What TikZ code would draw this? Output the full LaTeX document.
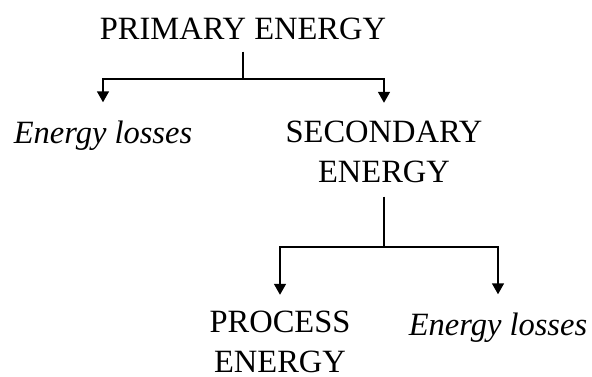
\documentclass[tikz,border=0pt]{standalone}
\usepackage{fontspec}
\setmainfont{Liberation Serif}
\usetikzlibrary{arrows.meta}

\begin{document}
\begin{tikzpicture}[x=1pt, y=-1pt,
  label/.style={inner sep=0pt, anchor=base, align=center, font=\fontsize{32.5}{39.5}\selectfont},
  loss/.style={label, font=\fontsize{32.5}{39.5}\selectfont\itshape},
  wire/.style={line width=1.6pt},
  branch/.style={wire, -{Triangle[width=12pt,length=11pt]}, shorten >=18pt}]
 \useasboundingbox (0,0) rectangle (592,376);
 % base anchor of a two-line node sits on its last line
 \node[label] (primary) at (243,39) {PRIMARY ENERGY};
 \node[loss] (loss1) at (103,143) {Energy losses};
 \node[label] (secondary) at (384,182) {SECONDARY\\ENERGY};
 \node[label] (process) at (280,372) {PROCESS\\ENERGY};
 \node[loss] (loss2) at (498,335) {Energy losses};
 \coordinate (fork1) at (243,79);
 \coordinate (fork2) at (384,247);
  \draw[wire] ([yshift=-12pt]primary.south) -- (fork1);
  \draw[branch] (fork1) -| (loss1.north);
  \draw[branch] (fork1) -| (secondary.north);
  \draw[wire] ([yshift=-14pt]secondary.south) -- (fork2);
  \draw[branch, shorten >=16pt] (fork2) -| (process.north);
  \draw[branch] (fork2) -| (loss2.north);
\end{tikzpicture}
\end{document}
